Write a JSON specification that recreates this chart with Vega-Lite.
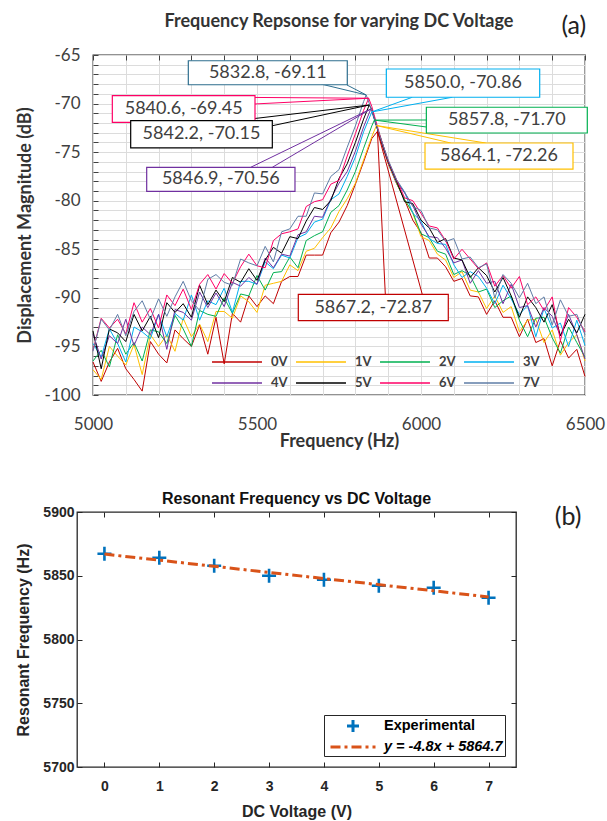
{
  "$schema": "https://vega.github.io/schema/vega-lite/v6.json",
  "padding": {"left": 8, "top": 12, "right": 4, "bottom": 0},
  "autosize": {"type": "pad"},
  "background": "white",
  "spacing": 39,
  "resolve": {"scale": {"color": "independent", "shape": "independent", "strokeDash": "independent", "stroke": "independent"}, "legend": {"color": "independent", "shape": "independent", "strokeDash": "independent", "stroke": "independent"}},
  "config": {
    "view": {"stroke": "#262626", "strokeWidth": 1.3},
    "axis": {"domain": false, "labelFlush": false}
  },
  "datasets": {
    "curves": [
      {"v":"0V","f":5000,"m":-96.6},{"v":"0V","f":5025,"m":-98.6},{"v":"0V","f":5050,"m":-96.6},{"v":"0V","f":5075,"m":-95.2},{"v":"0V","f":5100,"m":-97.3},{"v":"0V","f":5125,"m":-98.4},{"v":"0V","f":5150,"m":-99.6},{"v":"0V","f":5175,"m":-94.5},{"v":"0V","f":5200,"m":-95.8},{"v":"0V","f":5225,"m":-96.7},{"v":"0V","f":5250,"m":-93.3},{"v":"0V","f":5275,"m":-94.2},{"v":"0V","f":5300,"m":-95.0},{"v":"0V","f":5325,"m":-92.8},{"v":"0V","f":5350,"m":-95.8},{"v":"0V","f":5375,"m":-92.0},{"v":"0V","f":5400,"m":-96.8},{"v":"0V","f":5425,"m":-91.6},{"v":"0V","f":5450,"m":-92.5},{"v":"0V","f":5475,"m":-89.8},{"v":"0V","f":5500,"m":-90.9},{"v":"0V","f":5525,"m":-89.8},{"v":"0V","f":5550,"m":-90.6},{"v":"0V","f":5575,"m":-88.3},{"v":"0V","f":5600,"m":-87.8},{"v":"0V","f":5625,"m":-87.8},{"v":"0V","f":5650,"m":-85.6},{"v":"0V","f":5675,"m":-85.6},{"v":"0V","f":5700,"m":-85.6},{"v":"0V","f":5725,"m":-83.3},{"v":"0V","f":5750,"m":-82.2},{"v":"0V","f":5775,"m":-80.5},{"v":"0V","f":5800,"m":-78.3},{"v":"0V","f":5825,"m":-76.0},{"v":"0V","f":5850,"m":-73.6},{"v":"0V","f":5867.2,"m":-72.87},{"v":"0V","f":5875,"m":-73.6},{"v":"0V","f":5900,"m":-76.2},{"v":"0V","f":5925,"m":-78.2},{"v":"0V","f":5950,"m":-79.9},{"v":"0V","f":5975,"m":-82.0},{"v":"0V","f":6000,"m":-83.3},{"v":"0V","f":6025,"m":-85.9},{"v":"0V","f":6050,"m":-85.9},{"v":"0V","f":6075,"m":-86.8},{"v":"0V","f":6100,"m":-88.3},{"v":"0V","f":6125,"m":-88.0},{"v":"0V","f":6150,"m":-89.8},{"v":"0V","f":6175,"m":-89.9},{"v":"0V","f":6200,"m":-91.7},{"v":"0V","f":6225,"m":-90.3},{"v":"0V","f":6250,"m":-92.0},{"v":"0V","f":6275,"m":-92.0},{"v":"0V","f":6300,"m":-94.0},{"v":"0V","f":6325,"m":-92.2},{"v":"0V","f":6350,"m":-94.6},{"v":"0V","f":6375,"m":-94.2},{"v":"0V","f":6400,"m":-97.0},{"v":"0V","f":6425,"m":-94.4},{"v":"0V","f":6450,"m":-96.2},{"v":"0V","f":6475,"m":-95.3},{"v":"0V","f":6500,"m":-98.1},
      {"v":"1V","f":5000,"m":-97.4},{"v":"1V","f":5025,"m":-98.4},{"v":"1V","f":5050,"m":-95.0},{"v":"1V","f":5075,"m":-96.0},{"v":"1V","f":5100,"m":-96.9},{"v":"1V","f":5125,"m":-94.8},{"v":"1V","f":5150,"m":-97.9},{"v":"1V","f":5175,"m":-93.8},{"v":"1V","f":5200,"m":-95.0},{"v":"1V","f":5225,"m":-93.8},{"v":"1V","f":5250,"m":-95.5},{"v":"1V","f":5275,"m":-92.1},{"v":"1V","f":5300,"m":-94.0},{"v":"1V","f":5325,"m":-92.7},{"v":"1V","f":5350,"m":-94.5},{"v":"1V","f":5375,"m":-91.4},{"v":"1V","f":5400,"m":-91.4},{"v":"1V","f":5425,"m":-92.1},{"v":"1V","f":5450,"m":-89.8},{"v":"1V","f":5475,"m":-90.4},{"v":"1V","f":5500,"m":-91.5},{"v":"1V","f":5525,"m":-88.7},{"v":"1V","f":5550,"m":-88.5},{"v":"1V","f":5575,"m":-88.3},{"v":"1V","f":5600,"m":-86.6},{"v":"1V","f":5625,"m":-87.2},{"v":"1V","f":5650,"m":-85.2},{"v":"1V","f":5675,"m":-84.9},{"v":"1V","f":5700,"m":-83.8},{"v":"1V","f":5725,"m":-82.8},{"v":"1V","f":5750,"m":-81.1},{"v":"1V","f":5775,"m":-79.8},{"v":"1V","f":5800,"m":-78.2},{"v":"1V","f":5825,"m":-75.8},{"v":"1V","f":5850,"m":-73.4},{"v":"1V","f":5864.1,"m":-72.26},{"v":"1V","f":5875,"m":-73.4},{"v":"1V","f":5900,"m":-76.1},{"v":"1V","f":5925,"m":-78.1},{"v":"1V","f":5950,"m":-79.9},{"v":"1V","f":5975,"m":-81.3},{"v":"1V","f":6000,"m":-83.7},{"v":"1V","f":6025,"m":-84.1},{"v":"1V","f":6050,"m":-85.5},{"v":"1V","f":6075,"m":-86.1},{"v":"1V","f":6100,"m":-87.9},{"v":"1V","f":6125,"m":-87.3},{"v":"1V","f":6150,"m":-89.2},{"v":"1V","f":6175,"m":-89.4},{"v":"1V","f":6200,"m":-91.1},{"v":"1V","f":6225,"m":-89.8},{"v":"1V","f":6250,"m":-91.5},{"v":"1V","f":6275,"m":-90.9},{"v":"1V","f":6300,"m":-93.5},{"v":"1V","f":6325,"m":-92.3},{"v":"1V","f":6350,"m":-92.2},{"v":"1V","f":6375,"m":-94.6},{"v":"1V","f":6400,"m":-93.3},{"v":"1V","f":6425,"m":-95.9},{"v":"1V","f":6450,"m":-94.6},{"v":"1V","f":6475,"m":-93.8},{"v":"1V","f":6500,"m":-96.5},
      {"v":"2V","f":5000,"m":-96.5},{"v":"2V","f":5025,"m":-95.4},{"v":"2V","f":5050,"m":-97.1},{"v":"2V","f":5075,"m":-93.8},{"v":"2V","f":5100,"m":-95.8},{"v":"2V","f":5125,"m":-94.6},{"v":"2V","f":5150,"m":-96.5},{"v":"2V","f":5175,"m":-93.3},{"v":"2V","f":5200,"m":-93.5},{"v":"2V","f":5225,"m":-94.7},{"v":"2V","f":5250,"m":-91.8},{"v":"2V","f":5275,"m":-93.2},{"v":"2V","f":5300,"m":-95.0},{"v":"2V","f":5325,"m":-91.3},{"v":"2V","f":5350,"m":-91.7},{"v":"2V","f":5375,"m":-91.9},{"v":"2V","f":5400,"m":-90.0},{"v":"2V","f":5425,"m":-91.6},{"v":"2V","f":5450,"m":-89.6},{"v":"2V","f":5475,"m":-89.8},{"v":"2V","f":5500,"m":-87.7},{"v":"2V","f":5525,"m":-89.2},{"v":"2V","f":5550,"m":-87.4},{"v":"2V","f":5575,"m":-87.3},{"v":"2V","f":5600,"m":-85.8},{"v":"2V","f":5625,"m":-86.9},{"v":"2V","f":5650,"m":-84.1},{"v":"2V","f":5675,"m":-83.6},{"v":"2V","f":5700,"m":-83.2},{"v":"2V","f":5725,"m":-81.2},{"v":"2V","f":5750,"m":-80.5},{"v":"2V","f":5775,"m":-78.9},{"v":"2V","f":5800,"m":-77.0},{"v":"2V","f":5825,"m":-74.6},{"v":"2V","f":5850,"m":-72.3},{"v":"2V","f":5857.8,"m":-71.70},{"v":"2V","f":5875,"m":-73.3},{"v":"2V","f":5900,"m":-76.0},{"v":"2V","f":5925,"m":-78.1},{"v":"2V","f":5950,"m":-79.9},{"v":"2V","f":5975,"m":-81.2},{"v":"2V","f":6000,"m":-83.4},{"v":"2V","f":6025,"m":-83.8},{"v":"2V","f":6050,"m":-85.2},{"v":"2V","f":6075,"m":-85.5},{"v":"2V","f":6100,"m":-87.6},{"v":"2V","f":6125,"m":-87.2},{"v":"2V","f":6150,"m":-87.7},{"v":"2V","f":6175,"m":-89.4},{"v":"2V","f":6200,"m":-89.1},{"v":"2V","f":6225,"m":-91.0},{"v":"2V","f":6250,"m":-90.3},{"v":"2V","f":6275,"m":-89.8},{"v":"2V","f":6300,"m":-92.3},{"v":"2V","f":6325,"m":-94.0},{"v":"2V","f":6350,"m":-92.1},{"v":"2V","f":6375,"m":-92.0},{"v":"2V","f":6400,"m":-94.1},{"v":"2V","f":6425,"m":-95.7},{"v":"2V","f":6450,"m":-93.0},{"v":"2V","f":6475,"m":-94.6},{"v":"2V","f":6500,"m":-96.1},
      {"v":"3V","f":5000,"m":-94.7},{"v":"3V","f":5025,"m":-96.1},{"v":"3V","f":5050,"m":-93.2},{"v":"3V","f":5075,"m":-94.7},{"v":"3V","f":5100,"m":-96.6},{"v":"3V","f":5125,"m":-93.0},{"v":"3V","f":5150,"m":-93.5},{"v":"3V","f":5175,"m":-94.2},{"v":"3V","f":5200,"m":-91.7},{"v":"3V","f":5225,"m":-94.0},{"v":"3V","f":5250,"m":-91.6},{"v":"3V","f":5275,"m":-92.3},{"v":"3V","f":5300,"m":-89.7},{"v":"3V","f":5325,"m":-92.3},{"v":"3V","f":5350,"m":-90.3},{"v":"3V","f":5375,"m":-90.7},{"v":"3V","f":5400,"m":-89.0},{"v":"3V","f":5425,"m":-91.5},{"v":"3V","f":5450,"m":-88.3},{"v":"3V","f":5475,"m":-88.3},{"v":"3V","f":5500,"m":-88.6},{"v":"3V","f":5525,"m":-86.3},{"v":"3V","f":5550,"m":-87.0},{"v":"3V","f":5575,"m":-85.6},{"v":"3V","f":5600,"m":-85.9},{"v":"3V","f":5625,"m":-83.8},{"v":"3V","f":5650,"m":-83.4},{"v":"3V","f":5675,"m":-82.2},{"v":"3V","f":5700,"m":-81.9},{"v":"3V","f":5725,"m":-79.9},{"v":"3V","f":5750,"m":-79.3},{"v":"3V","f":5775,"m":-77.5},{"v":"3V","f":5800,"m":-75.5},{"v":"3V","f":5825,"m":-72.9},{"v":"3V","f":5850,"m":-70.86},{"v":"3V","f":5875,"m":-73.4},{"v":"3V","f":5900,"m":-76.0},{"v":"3V","f":5925,"m":-78.0},{"v":"3V","f":5950,"m":-79.1},{"v":"3V","f":5975,"m":-81.3},{"v":"3V","f":6000,"m":-82.1},{"v":"3V","f":6025,"m":-83.9},{"v":"3V","f":6050,"m":-84.4},{"v":"3V","f":6075,"m":-84.5},{"v":"3V","f":6100,"m":-86.6},{"v":"3V","f":6125,"m":-87.9},{"v":"3V","f":6150,"m":-87.3},{"v":"3V","f":6175,"m":-87.8},{"v":"3V","f":6200,"m":-89.0},{"v":"3V","f":6225,"m":-90.6},{"v":"3V","f":6250,"m":-88.7},{"v":"3V","f":6275,"m":-90.1},{"v":"3V","f":6300,"m":-91.7},{"v":"3V","f":6325,"m":-90.8},{"v":"3V","f":6350,"m":-94.0},{"v":"3V","f":6375,"m":-91.1},{"v":"3V","f":6400,"m":-93.1},{"v":"3V","f":6425,"m":-92.6},{"v":"3V","f":6450,"m":-95.0},{"v":"3V","f":6475,"m":-92.3},{"v":"3V","f":6500,"m":-94.9},
      {"v":"4V","f":5000,"m":-93.7},{"v":"4V","f":5025,"m":-96.3},{"v":"4V","f":5050,"m":-93.9},{"v":"4V","f":5075,"m":-94.7},{"v":"4V","f":5100,"m":-92.2},{"v":"4V","f":5125,"m":-94.9},{"v":"4V","f":5150,"m":-93.0},{"v":"4V","f":5175,"m":-93.8},{"v":"4V","f":5200,"m":-91.7},{"v":"4V","f":5225,"m":-95.3},{"v":"4V","f":5250,"m":-91.2},{"v":"4V","f":5275,"m":-91.5},{"v":"4V","f":5300,"m":-92.3},{"v":"4V","f":5325,"m":-89.4},{"v":"4V","f":5350,"m":-91.0},{"v":"4V","f":5375,"m":-89.5},{"v":"4V","f":5400,"m":-90.9},{"v":"4V","f":5425,"m":-88.4},{"v":"4V","f":5450,"m":-88.8},{"v":"4V","f":5475,"m":-87.9},{"v":"4V","f":5500,"m":-88.6},{"v":"4V","f":5525,"m":-85.9},{"v":"4V","f":5550,"m":-86.9},{"v":"4V","f":5575,"m":-85.5},{"v":"4V","f":5600,"m":-85.7},{"v":"4V","f":5625,"m":-83.5},{"v":"4V","f":5650,"m":-83.2},{"v":"4V","f":5675,"m":-81.6},{"v":"4V","f":5700,"m":-81.7},{"v":"4V","f":5725,"m":-79.8},{"v":"4V","f":5750,"m":-78.2},{"v":"4V","f":5775,"m":-77.0},{"v":"4V","f":5800,"m":-74.9},{"v":"4V","f":5825,"m":-72.4},{"v":"4V","f":5846.9,"m":-70.56},{"v":"4V","f":5850,"m":-70.7},{"v":"4V","f":5875,"m":-73.5},{"v":"4V","f":5900,"m":-76.0},{"v":"4V","f":5925,"m":-78.0},{"v":"4V","f":5950,"m":-79.2},{"v":"4V","f":5975,"m":-80.5},{"v":"4V","f":6000,"m":-82.4},{"v":"4V","f":6025,"m":-83.7},{"v":"4V","f":6050,"m":-83.8},{"v":"4V","f":6075,"m":-84.9},{"v":"4V","f":6100,"m":-86.4},{"v":"4V","f":6125,"m":-86.1},{"v":"4V","f":6150,"m":-88.5},{"v":"4V","f":6175,"m":-87.2},{"v":"4V","f":6200,"m":-88.5},{"v":"4V","f":6225,"m":-88.3},{"v":"4V","f":6250,"m":-90.6},{"v":"4V","f":6275,"m":-88.6},{"v":"4V","f":6300,"m":-91.0},{"v":"4V","f":6325,"m":-90.8},{"v":"4V","f":6350,"m":-93.0},{"v":"4V","f":6375,"m":-91.0},{"v":"4V","f":6400,"m":-91.9},{"v":"4V","f":6425,"m":-93.9},{"v":"4V","f":6450,"m":-91.7},{"v":"4V","f":6475,"m":-93.8},{"v":"4V","f":6500,"m":-96.3},
      {"v":"5V","f":5000,"m":-93.4},{"v":"5V","f":5025,"m":-97.3},{"v":"5V","f":5050,"m":-93.2},{"v":"5V","f":5075,"m":-93.6},{"v":"5V","f":5100,"m":-94.5},{"v":"5V","f":5125,"m":-91.7},{"v":"5V","f":5150,"m":-93.4},{"v":"5V","f":5175,"m":-91.9},{"v":"5V","f":5200,"m":-94.1},{"v":"5V","f":5225,"m":-90.5},{"v":"5V","f":5250,"m":-91.5},{"v":"5V","f":5275,"m":-90.6},{"v":"5V","f":5300,"m":-92.0},{"v":"5V","f":5325,"m":-88.7},{"v":"5V","f":5350,"m":-90.7},{"v":"5V","f":5375,"m":-89.2},{"v":"5V","f":5400,"m":-90.4},{"v":"5V","f":5425,"m":-87.9},{"v":"5V","f":5450,"m":-88.4},{"v":"5V","f":5475,"m":-87.0},{"v":"5V","f":5500,"m":-88.2},{"v":"5V","f":5525,"m":-86.1},{"v":"5V","f":5550,"m":-84.8},{"v":"5V","f":5575,"m":-85.4},{"v":"5V","f":5600,"m":-83.7},{"v":"5V","f":5625,"m":-83.9},{"v":"5V","f":5650,"m":-82.1},{"v":"5V","f":5675,"m":-80.7},{"v":"5V","f":5700,"m":-80.9},{"v":"5V","f":5725,"m":-80.0},{"v":"5V","f":5750,"m":-77.7},{"v":"5V","f":5775,"m":-76.2},{"v":"5V","f":5800,"m":-74.0},{"v":"5V","f":5825,"m":-71.6},{"v":"5V","f":5842.2,"m":-70.15},{"v":"5V","f":5850,"m":-70.6},{"v":"5V","f":5875,"m":-73.5},{"v":"5V","f":5900,"m":-76.0},{"v":"5V","f":5925,"m":-77.9},{"v":"5V","f":5950,"m":-80.1},{"v":"5V","f":5975,"m":-80.3},{"v":"5V","f":6000,"m":-82.0},{"v":"5V","f":6025,"m":-82.8},{"v":"5V","f":6050,"m":-84.3},{"v":"5V","f":6075,"m":-83.9},{"v":"5V","f":6100,"m":-85.9},{"v":"5V","f":6125,"m":-86.1},{"v":"5V","f":6150,"m":-87.9},{"v":"5V","f":6175,"m":-86.9},{"v":"5V","f":6200,"m":-87.7},{"v":"5V","f":6225,"m":-89.4},{"v":"5V","f":6250,"m":-87.9},{"v":"5V","f":6275,"m":-89.8},{"v":"5V","f":6300,"m":-92.0},{"v":"5V","f":6325,"m":-89.9},{"v":"5V","f":6350,"m":-91.0},{"v":"5V","f":6375,"m":-92.5},{"v":"5V","f":6400,"m":-90.7},{"v":"5V","f":6425,"m":-93.9},{"v":"5V","f":6450,"m":-92.2},{"v":"5V","f":6475,"m":-93.6},{"v":"5V","f":6500,"m":-91.7},
      {"v":"6V","f":5000,"m":-95.4},{"v":"6V","f":5025,"m":-92.1},{"v":"6V","f":5050,"m":-93.1},{"v":"6V","f":5075,"m":-92.2},{"v":"6V","f":5100,"m":-93.7},{"v":"6V","f":5125,"m":-90.5},{"v":"6V","f":5150,"m":-92.5},{"v":"6V","f":5175,"m":-91.1},{"v":"6V","f":5200,"m":-93.1},{"v":"6V","f":5225,"m":-89.7},{"v":"6V","f":5250,"m":-90.8},{"v":"6V","f":5275,"m":-89.1},{"v":"6V","f":5300,"m":-91.2},{"v":"6V","f":5325,"m":-88.6},{"v":"6V","f":5350,"m":-87.6},{"v":"6V","f":5375,"m":-89.1},{"v":"6V","f":5400,"m":-87.5},{"v":"6V","f":5425,"m":-88.5},{"v":"6V","f":5450,"m":-86.8},{"v":"6V","f":5475,"m":-85.5},{"v":"6V","f":5500,"m":-86.7},{"v":"6V","f":5525,"m":-86.9},{"v":"6V","f":5550,"m":-84.1},{"v":"6V","f":5575,"m":-83.4},{"v":"6V","f":5600,"m":-83.2},{"v":"6V","f":5625,"m":-82.9},{"v":"6V","f":5650,"m":-80.6},{"v":"6V","f":5675,"m":-80.1},{"v":"6V","f":5700,"m":-79.9},{"v":"6V","f":5725,"m":-78.3},{"v":"6V","f":5750,"m":-77.9},{"v":"6V","f":5775,"m":-75.4},{"v":"6V","f":5800,"m":-73.1},{"v":"6V","f":5825,"m":-70.7},{"v":"6V","f":5840.6,"m":-69.45},{"v":"6V","f":5850,"m":-70.3},{"v":"6V","f":5875,"m":-73.3},{"v":"6V","f":5900,"m":-75.9},{"v":"6V","f":5925,"m":-77.8},{"v":"6V","f":5950,"m":-79.7},{"v":"6V","f":5975,"m":-80.0},{"v":"6V","f":6000,"m":-81.3},{"v":"6V","f":6025,"m":-82.6},{"v":"6V","f":6050,"m":-82.8},{"v":"6V","f":6075,"m":-84.1},{"v":"6V","f":6100,"m":-86.0},{"v":"6V","f":6125,"m":-85.0},{"v":"6V","f":6150,"m":-86.0},{"v":"6V","f":6175,"m":-87.0},{"v":"6V","f":6200,"m":-86.4},{"v":"6V","f":6225,"m":-88.8},{"v":"6V","f":6250,"m":-87.7},{"v":"6V","f":6275,"m":-89.0},{"v":"6V","f":6300,"m":-87.8},{"v":"6V","f":6325,"m":-90.7},{"v":"6V","f":6350,"m":-89.9},{"v":"6V","f":6375,"m":-91.3},{"v":"6V","f":6400,"m":-89.9},{"v":"6V","f":6425,"m":-94.4},{"v":"6V","f":6450,"m":-91.0},{"v":"6V","f":6475,"m":-92.0},{"v":"6V","f":6500,"m":-93.5},
      {"v":"7V","f":5000,"m":-95.5},{"v":"7V","f":5025,"m":-92.2},{"v":"7V","f":5050,"m":-93.3},{"v":"7V","f":5075,"m":-91.7},{"v":"7V","f":5100,"m":-93.9},{"v":"7V","f":5125,"m":-91.4},{"v":"7V","f":5150,"m":-90.3},{"v":"7V","f":5175,"m":-92.2},{"v":"7V","f":5200,"m":-90.1},{"v":"7V","f":5225,"m":-91.9},{"v":"7V","f":5250,"m":-89.9},{"v":"7V","f":5275,"m":-88.3},{"v":"7V","f":5300,"m":-90.3},{"v":"7V","f":5325,"m":-91.3},{"v":"7V","f":5350,"m":-88.1},{"v":"7V","f":5375,"m":-87.6},{"v":"7V","f":5400,"m":-88.4},{"v":"7V","f":5425,"m":-88.7},{"v":"7V","f":5450,"m":-86.0},{"v":"7V","f":5475,"m":-86.4},{"v":"7V","f":5500,"m":-86.7},{"v":"7V","f":5525,"m":-84.7},{"v":"7V","f":5550,"m":-86.3},{"v":"7V","f":5575,"m":-83.2},{"v":"7V","f":5600,"m":-82.9},{"v":"7V","f":5625,"m":-81.6},{"v":"7V","f":5650,"m":-81.6},{"v":"7V","f":5675,"m":-79.2},{"v":"7V","f":5700,"m":-79.3},{"v":"7V","f":5725,"m":-77.5},{"v":"7V","f":5750,"m":-76.8},{"v":"7V","f":5775,"m":-74.5},{"v":"7V","f":5800,"m":-72.3},{"v":"7V","f":5825,"m":-69.8},{"v":"7V","f":5832.8,"m":-69.11},{"v":"7V","f":5850,"m":-70.7},{"v":"7V","f":5875,"m":-73.4},{"v":"7V","f":5900,"m":-75.8},{"v":"7V","f":5925,"m":-77.8},{"v":"7V","f":5950,"m":-79.1},{"v":"7V","f":5975,"m":-80.6},{"v":"7V","f":6000,"m":-81.0},{"v":"7V","f":6025,"m":-82.8},{"v":"7V","f":6050,"m":-83.0},{"v":"7V","f":6075,"m":-84.2},{"v":"7V","f":6100,"m":-83.9},{"v":"7V","f":6125,"m":-86.0},{"v":"7V","f":6150,"m":-85.8},{"v":"7V","f":6175,"m":-86.9},{"v":"7V","f":6200,"m":-86.5},{"v":"7V","f":6225,"m":-90.0},{"v":"7V","f":6250,"m":-87.6},{"v":"7V","f":6275,"m":-88.5},{"v":"7V","f":6300,"m":-90.0},{"v":"7V","f":6325,"m":-88.5},{"v":"7V","f":6350,"m":-90.6},{"v":"7V","f":6375,"m":-89.9},{"v":"7V","f":6400,"m":-92.8},{"v":"7V","f":6425,"m":-90.2},{"v":"7V","f":6450,"m":-91.9},{"v":"7V","f":6475,"m":-91.7},{"v":"7V","f":6500,"m":-93.8}
    ],
    "notes": [
      {"v":"7V","label":"5832.8, -69.11","f1":5290.6,"f2":5775.3,"m1":-65.59,"m2":-68.06,"fc":5533,"mc":-66.83},
      {"v":"6V","label":"5840.6, -69.45","f1":5058.9,"f2":5493.9,"m1":-69.19,"m2":-71.93,"fc":5276.4,"mc":-70.56},
      {"v":"5V","label":"5842.2, -70.15","f1":5114.9,"f2":5546.7,"m1":-71.76,"m2":-74.57,"fc":5330.8,"mc":-73.17},
      {"v":"4V","label":"5846.9, -70.56","f1":5163.7,"f2":5615.8,"m1":-76.56,"m2":-79.03,"fc":5389.8,"mc":-77.8},
      {"v":"3V","label":"5850.0, -70.86","f1":5894.3,"f2":6361.9,"m1":-66.44,"m2":-69.35,"fc":6128.1,"mc":-67.9},
      {"v":"2V","label":"5857.8, -71.70","f1":6016.3,"f2":6507,"m1":-70.38,"m2":-73.03,"fc":6261.7,"mc":-71.7},
      {"v":"1V","label":"5864.1, -72.26","f1":6012.2,"f2":6463.4,"m1":-74.06,"m2":-76.74,"fc":6237.8,"mc":-75.4},
      {"v":"0V","label":"5867.2, -72.87","f1":5625.9,"f2":6083.2,"m1":-89.65,"m2":-92.35,"fc":5854.6,"mc":-91.0}
    ],
    "leaders": [
      {"v":"7V","fa":5695.1,"ma":-67.99,"fb":5832.8,"mb":-69.11},
      {"v":"7V","fa":5774.4,"ma":-68.09,"fb":5832.8,"mb":-69.11},
      {"v":"6V","fa":5493.9,"ma":-69.37,"fb":5840.6,"mb":-69.45},
      {"v":"6V","fa":5493.9,"ma":-70.04,"fb":5840.6,"mb":-69.45},
      {"v":"5V","fa":5436.9,"ma":-71.76,"fb":5842.2,"mb":-70.15},
      {"v":"5V","fa":5546.7,"ma":-72.28,"fb":5842.2,"mb":-70.15},
      {"v":"4V","fa":5480.8,"ma":-76.56,"fb":5846.9,"mb":-70.56},
      {"v":"4V","fa":5546.7,"ma":-76.56,"fb":5846.9,"mb":-70.56},
      {"v":"3V","fa":5973.5,"ma":-69.35,"fb":5850.0,"mb":-70.86},
      {"v":"3V","fa":6095.5,"ma":-69.35,"fb":5850.0,"mb":-70.86},
      {"v":"2V","fa":6016.2,"ma":-71.69,"fb":5857.8,"mb":-71.70},
      {"v":"2V","fa":6016.2,"ma":-72.41,"fb":5857.8,"mb":-71.70},
      {"v":"1V","fa":6090.6,"ma":-74.06,"fb":5864.1,"mb":-72.26},
      {"v":"1V","fa":6197.3,"ma":-74.06,"fb":5864.1,"mb":-72.26},
      {"v":"0V","fa":5891.2,"ma":-89.65,"fb":5867.2,"mb":-72.87},
      {"v":"0V","fa":6004.0,"ma":-89.65,"fb":5867.2,"mb":-72.87}
    ],
    "res": [
      {"volt":0,"freq":5867.2,"series":"Experimental"},
      {"volt":1,"freq":5864.1,"series":"Experimental"},
      {"volt":2,"freq":5857.8,"series":"Experimental"},
      {"volt":3,"freq":5850.0,"series":"Experimental"},
      {"volt":4,"freq":5846.9,"series":"Experimental"},
      {"volt":5,"freq":5842.2,"series":"Experimental"},
      {"volt":6,"freq":5840.6,"series":"Experimental"},
      {"volt":7,"freq":5832.8,"series":"Experimental"}
    ],
    "fit": [
      {"volt":0,"freq":5867.0,"series":"y = -4.8x + 5864.7"},
      {"volt":7,"freq":5833.4,"series":"y = -4.8x + 5864.7"}
    ]
  },
  "vconcat": [
    {
      "spacing": 0,
      "resolve": {"scale": {"color": "independent", "stroke": "independent"}, "legend": {"color": "independent", "stroke": "independent"}},
      "hconcat": [
        {"width": 1, "height": 1, "view": {"stroke": null}, "data": {"values": [{}]}, "mark": {"type": "point", "opacity": 0}},
        {
          "width": 492,
          "height": 340,
          "title": {"text": "Frequency Repsonse for varying DC Voltage", "font": "Lato", "fontSize": 18, "fontWeight": "bold", "color": "#333333", "offset": -17, "anchor": "middle"},
          "layer": [
            {
              "data": {"name": "curves"},
              "mark": {"type": "line", "strokeWidth": 1},
              "encoding": {
                "x": {"field": "f", "type": "quantitative",
                  "scale": {"domain": [5000, 6500], "nice": false, "zero": false},
                  "axis": {"orient": "bottom", "values": [5000,5100,5200,5300,5400,5500,5600,5700,5800,5900,6000,6100,6200,6300,6400,6500],
                    "labelExpr": "datum.value % 500 === 0 ? datum.label : ''", "format": "d",
                    "grid": true, "gridColor": "#DCDCDC", "gridWidth": 1, "tickSize": 0,
                    "labelPadding": 21, "labelFont": "Lato", "labelFontSize": 17, "labelColor": "#404040",
                    "title": "Frequency (Hz)", "titleFont": "Lato", "titleFontSize": 18, "titleFontWeight": "bold", "titleColor": "#333333", "titlePadding": 0}},
                "y": {"field": "m", "type": "quantitative",
                  "scale": {"domain": [-100, -65], "nice": false, "zero": false},
                  "axis": {"orient": "left", "values": [-100,-99,-98,-97,-96,-95,-94,-93,-92,-91,-90,-89,-88,-87,-86,-85,-84,-83,-82,-81,-80,-79,-78,-77,-76,-75,-74,-73,-72,-71,-70,-69,-68,-67,-66,-65],
                    "labelExpr": "datum.value % 5 === 0 ? '' + datum.value : ''",
                    "grid": true, "gridColor": "#DCDCDC", "gridWidth": 1, "ticks": true, "tickSize": -5, "tickColor": "#404040",
                    "labelPadding": 18, "labelFont": "Lato", "labelFontSize": 17, "labelColor": "#404040",
                    "title": "Displacement Magnitude (dB)", "titleFont": "Lato", "titleFontSize": 18, "titleFontWeight": "bold", "titleColor": "#333333", "titlePadding": 10}},
                "color": {"field": "v", "type": "nominal",
                  "scale": {"domain": ["0V","1V","2V","3V","4V","5V","6V","7V"], "range": ["#C00000","#FFC000","#00B050","#00B0F0","#7030A0","#000000","#FF0066","#5E7CA6"]},
                  "legend": {"orient": "none", "legendX": 137, "legendY": 300, "direction": "horizontal", "columns": 4, "title": null,
                    "symbolType": "M-4,0H4", "symbolSize": 156, "symbolStrokeWidth": 1.5,
                    "labelFont": "Lato", "labelFontSize": 13, "labelFontWeight": "bold", "labelColor": "#404040",
                    "columnPadding": 5, "rowPadding": 7, "labelOffset": 27, "padding": 0}}
              }
            },
            {
              "data": {"name": "leaders"},
              "mark": {"type": "rule", "strokeWidth": 1},
              "encoding": {
                "x": {"field": "fa", "type": "quantitative", "axis": null},
                "y": {"field": "ma", "type": "quantitative", "axis": null},
                "x2": {"field": "fb"},
                "y2": {"field": "mb"},
                "stroke": {"field": "v", "type": "nominal",
                  "scale": {"domain": ["0V","1V","2V","3V","4V","5V","6V","7V"], "range": ["#C00000","#FFC000","#00B050","#00B0F0","#7030A0","#000000","#FF0066","#2F6F8F"]},
                  "legend": null}
              }
            },
            {
              "data": {"name": "notes"},
              "mark": {"type": "rect", "fill": "white", "strokeWidth": 1.2},
              "encoding": {
                "x": {"field": "f1", "type": "quantitative",
                  "axis": {"orient": "top", "values": [5000,5100,5200,5300,5400,5500,5600,5700,5800,5900,6000,6100,6200,6300,6400,6500], "labels": false, "ticks": true, "tickSize": -5, "tickColor": "#404040", "grid": false, "title": null}},
                "x2": {"field": "f2"},
                "y": {"field": "m1", "type": "quantitative",
                  "axis": {"orient": "right", "labels": false, "ticks": false, "grid": false, "title": null}},
                "y2": {"field": "m2"},
                "stroke": {"field": "v", "type": "nominal", "legend": null}
              }
            },
            {
              "data": {"name": "notes"},
              "mark": {"type": "text", "font": "Lato", "fontSize": 18, "color": "#404040", "align": "center", "baseline": "middle"},
              "encoding": {
                "x": {"field": "fc", "type": "quantitative", "axis": null},
                "y": {"field": "mc", "type": "quantitative", "axis": null},
                "text": {"field": "label"}
              }
            },
            {
              "data": {"values": [{"tag": "(a)"}]},
              "mark": {"type": "text", "font": "Lato", "fontSize": 25, "color": "#222222", "align": "center", "baseline": "middle"},
              "encoding": {
                "x": {"datum": 6466, "type": "quantitative", "axis": null},
                "y": {"datum": -62.0, "type": "quantitative", "axis": null},
                "text": {"field": "tag"}
              }
            }
          ]
        }
      ]
    },
    {
      "spacing": 0,
      "resolve": {"scale": {"color": "independent", "shape": "independent", "strokeDash": "independent"}, "legend": {"color": "independent", "shape": "independent", "strokeDash": "independent"}},
      "hconcat": [
        {"width": 1, "height": 1, "view": {"stroke": null}, "data": {"values": [{}]}, "mark": {"type": "point", "opacity": 0}},
        {
          "width": 439,
          "height": 255,
          "title": {"text": "Resonant Frequency vs DC Voltage", "font": "Liberation Sans", "fontSize": 16, "fontWeight": "bold", "color": "#111111", "offset": -2, "anchor": "middle"},
          "layer": [
            {
              "data": {"name": "res"},
              "mark": {"type": "point", "filled": false, "size": 306, "strokeWidth": 2.6, "opacity": 1},
              "encoding": {
                "x": {"field": "volt", "type": "quantitative",
                  "scale": {"domain": [-0.5, 7.5], "nice": false, "zero": false},
                  "axis": {"orient": "bottom", "values": [0,1,2,3,4,5,6,7], "format": "d", "grid": false, "tickSize": -5, "tickColor": "#262626",
                    "labelPadding": 17, "labelFont": "Liberation Sans", "labelFontSize": 14, "labelFontWeight": "bold", "labelColor": "#262626",
                    "title": "DC Voltage (V)", "titleFont": "Liberation Sans", "titleFontSize": 16, "titleFontWeight": "bold", "titleColor": "#262626", "titlePadding": 10}},
                "y": {"field": "freq", "type": "quantitative",
                  "scale": {"domain": [5700, 5900], "nice": false, "zero": false},
                  "axis": {"orient": "left", "values": [5700,5750,5800,5850,5900], "format": "d", "grid": false, "tickSize": -5, "tickColor": "#262626",
                    "labelPadding": 8, "labelFont": "Liberation Sans", "labelFontSize": 14, "labelFontWeight": "bold", "labelColor": "#262626",
                    "title": "Resonant Frequency (Hz)", "titleFont": "Liberation Sans", "titleFontSize": 16, "titleFontWeight": "bold", "titleColor": "#262626", "titlePadding": 11}},
                "color": {"field": "series", "type": "nominal",
                  "scale": {"domain": ["Experimental", "y = -4.8x + 5864.7"], "range": ["#0072BD", "#D95319"]},
                  "legend": {"orient": "bottom-right", "offset": 11, "title": null,
                    "fillColor": "white", "strokeColor": "#262626", "padding": 2,
                    "symbolSize": 225, "symbolStrokeWidth": 3, "symbolOffset": 18,
                    "labelFont": "Liberation Sans", "labelFontSize": 14.5, "labelFontWeight": "bold", "labelColor": "#000000",
                    "labelOffset": 22, "rowPadding": -1,
                    "encode": {"labels": {"update": {"fontStyle": {"signal": "datum.value === 'Experimental' ? 'normal' : 'italic'"}}}}}},
                "shape": {"field": "series", "type": "nominal",
                  "scale": {"domain": ["Experimental", "y = -4.8x + 5864.7"], "range": ["M-0.8,0H0.8M0,-0.8V0.8", "M-3,0H3"]},
                  "legend": {"orient": "bottom-right", "offset": 11, "title": null,
                    "fillColor": "white", "strokeColor": "#262626", "padding": 2,
                    "symbolSize": 225, "symbolStrokeWidth": 3, "symbolOffset": 18,
                    "labelFont": "Liberation Sans", "labelFontSize": 14.5, "labelFontWeight": "bold", "labelColor": "#000000",
                    "labelOffset": 22, "rowPadding": -1,
                    "encode": {"labels": {"update": {"fontStyle": {"signal": "datum.value === 'Experimental' ? 'normal' : 'italic'"}}}}}}
              }
            },
            {
              "data": {"name": "fit"},
              "mark": {"type": "line", "strokeWidth": 3},
              "encoding": {
                "x": {"field": "volt", "type": "quantitative",
                  "axis": {"orient": "top", "values": [0,1,2,3,4,5,6,7], "labels": false, "tickSize": -5, "tickColor": "#262626", "grid": false, "title": null}},
                "y": {"field": "freq", "type": "quantitative",
                  "axis": {"orient": "right", "values": [5700,5750,5800,5850,5900], "labels": false, "tickSize": -5, "tickColor": "#262626", "grid": false, "title": null}},
                "color": {"field": "series", "type": "nominal"},
                "strokeDash": {"field": "series", "type": "nominal",
                  "scale": {"domain": ["Experimental", "y = -4.8x + 5864.7"], "range": [[1, 0], [10, 4, 3, 4]]},
                  "legend": {"orient": "bottom-right", "offset": 11, "title": null,
                    "fillColor": "white", "strokeColor": "#262626", "padding": 2,
                    "symbolSize": 225, "symbolStrokeWidth": 3, "symbolOffset": 18,
                    "labelFont": "Liberation Sans", "labelFontSize": 14.5, "labelFontWeight": "bold", "labelColor": "#000000",
                    "labelOffset": 22, "rowPadding": -1,
                    "encode": {"labels": {"update": {"fontStyle": {"signal": "datum.value === 'Experimental' ? 'normal' : 'italic'"}}}}}}
              }
            },
            {
              "data": {"values": [{"tag": "(b)"}]},
              "mark": {"type": "text", "font": "Lato", "fontSize": 25, "color": "#222222", "align": "center", "baseline": "middle"},
              "encoding": {
                "x": {"datum": 8.45, "type": "quantitative", "axis": null},
                "y": {"datum": 5896, "type": "quantitative", "axis": null},
                "text": {"field": "tag"}
              }
            }
          ]
        }
      ]
    }
  ]
}
